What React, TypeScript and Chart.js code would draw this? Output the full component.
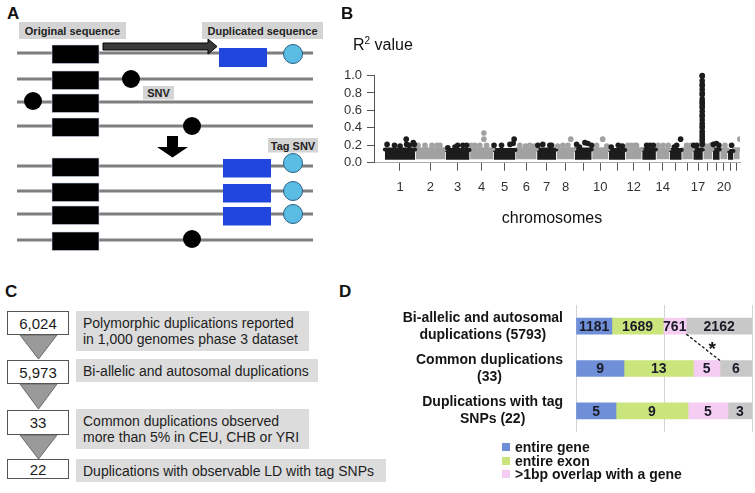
import React, { useEffect, useRef } from "react";
import { Chart, registerables } from "chart.js";
Chart.register(...registerables);

const FONT = '"Liberation Sans", Arial, Helvetica, sans-serif';

// ---------- Panel B data ----------
const CHR_NAMES = ["1","2","3","4","5","6","7","8","9","10","11","12","13","14","15","16","17","18","19","20","21","22"];
const CHR_LENGTHS_MB = [249,243,198,191,181,171,159,146,141,136,135,134,115,107,102,90,81,78,59,63,48,51];
const CHR_TICK_LABELS = ["1","2","3","4","5","6","7","8","","10","","12","","14","","","17","","","20","",""];
// dense body of R2 values per chromosome (low / high edge of the cloud)
const BAND_LOW = [0.035,0.04,0.035,0.04,0.035,0.04,0.035,0.04,0.035,0.04,0.035,0.04,0.035,0.04,0.035,0.04,0.035,0.04,0.035,0.04,0.035,0.04];
const BAND_HIGH = [0.15,0.155,0.145,0.155,0.145,0.155,0.15,0.155,0.15,0.155,0.145,0.155,0.15,0.155,0.145,0.155,0.15,0.155,0.15,0.155,0.135,0.155];
// sparse points above the cloud: [chromosome index, offset in Mb, R2]
const OUTLIERS: [number, number, number][] = [
  [0,20,0.21],[0,80,0.2],[0,125,0.19],[0,175,0.27],[0,178,0.21],[0,200,0.2],[0,232,0.23],[0,240,0.21],
  [1,21,0.2],[1,78,0.2],[1,134,0.2],[1,175,0.2],[1,199,0.2],
  [2,20,0.17],[2,78,0.18],[2,100,0.2],[2,142,0.2],[2,172,0.2],
  [3,10,0.2],[3,41,0.2],[3,81,0.2],[3,114,0.27],[3,114,0.34],[3,136,0.2],
  [4,5,0.2],[4,66,0.2],[4,134,0.21],[4,168,0.27],[4,160,0.22],
  [5,33,0.2],[5,80,0.19],[5,114,0.2],[5,150,0.19],
  [6,8,0.2],[6,48,0.21],[6,105,0.2],[6,119,0.2],
  [7,10,0.19],[7,52,0.2],[7,93,0.2],[7,115,0.27],
  [8,17,0.21],[8,40,0.18],[8,84,0.23],[8,108,0.22],[8,138,0.2],
  [9,38,0.2],[9,87,0.27],[9,120,0.19],
  [10,20,0.18],[10,77,0.2],[10,110,0.19],
  [11,20,0.2],[11,50,0.2],[11,77,0.2],[11,90,0.2],
  [12,38,0.2],[12,65,0.2],[12,92,0.2],
  [13,17,0.2],[13,57,0.2],[13,98,0.2],
  [14,59,0.2],[14,91,0.27],[14,40,0.18],
  [15,38,0.2],[15,70,0.2],
  [16,5,0.2],[16,30,0.2],
  [17,20,0.19],[17,60,0.2],
  [18,5,0.21],[18,30,0.22],[18,50,0.2],
  [19,40,0.2],
  [20,31,0.2],
  [21,50,0.27],
];
const CHR17_SPIKE_OFFSET_MB = 74;
const CHR17_SPIKE_R2 = [1.0,0.99,0.94,0.9,0.88,0.84,0.8,0.78,0.73,0.7,0.68,0.65,0.63,0.59,0.55,0.53,0.49,0.45,0.42,0.4,0.36,0.33,0.3,0.27,0.24,0.21];
const Y_TICKS = [0, 0.2, 0.4, 0.6, 0.8, 1.0];

// ---------- Panel D data ----------
const D_CATEGORIES = [
  ["Bi-allelic and autosomal", "duplications (5793)"],
  ["Common duplications", "(33)"],
  ["Duplications with tag", "SNPs (22)"],
];
const ENTIRE_GENE = [1181, 9, 5];
const ENTIRE_EXON = [1689, 13, 9];
const OVERLAP_GENE = [761, 5, 5];
const NO_OVERLAP = [2162, 6, 3];
const D_SERIES_NAMES = ["entire gene", "entire exon", ">1bp overlap with a gene", ""];
const D_COLORS = ["#6f90d8", "#c9e57c", "#f5cdf2", "#c8c8c8"];

// ---------- Panel C data ----------
const FLOW_COUNTS = ["6,024", "5,973", "33", "22"];
const FLOW_TEXT = [
  ["Polymorphic duplications reported", "in 1,000 genomes phase 3 dataset"],
  ["Bi-allelic and autosomal duplications"],
  ["Common duplications observed", "more than 5% in CEU, CHB or YRI"],
  ["Duplications with observable LD with tag SNPs"],
];

const BLACK = "#1c1c1c";
const GRAY = "#a2a2a2";

function ManhattanChart() {
  const ref = useRef<HTMLCanvasElement>(null);
  useEffect(() => {
    const starts: number[] = [];
    let acc = 0;
    CHR_LENGTHS_MB.forEach((l) => { starts.push(acc); acc += l; });
    const total = acc;
    const centers = CHR_LENGTHS_MB.map((l, i) => starts[i] + l / 2);

    const bands: any[] = CHR_LENGTHS_MB.map((len, i) => ({
      type: "line",
      label: "chr" + CHR_NAMES[i],
      data: [{ x: starts[i] + 2, y: BAND_HIGH[i] }, { x: starts[i] + len - 2, y: BAND_HIGH[i] }],
      showLine: true,
      fill: { value: BAND_LOW[i] },
      backgroundColor: i % 2 === 0 ? BLACK : GRAY,
      borderColor: i % 2 === 0 ? BLACK : GRAY,
      borderWidth: 4,
      borderCapStyle: "round",
      pointRadius: 0,
      order: 3,
    }));
    const outBlack = OUTLIERS.filter((o) => o[0] % 2 === 0).map((o) => ({ x: starts[o[0]] + o[1], y: o[2] }));
    const outGray = OUTLIERS.filter((o) => o[0] % 2 === 1).map((o) => ({ x: starts[o[0]] + o[1], y: o[2] }));
    const spike = CHR17_SPIKE_R2.map((v) => ({ x: starts[16] + CHR17_SPIKE_OFFSET_MB, y: v }));

    const chart = new Chart(ref.current!, {
      type: "scatter",
      data: {
        datasets: [
          ...bands,
          { label: "gray", data: outGray, backgroundColor: GRAY, borderWidth: 0, pointRadius: 2.8, order: 2 },
          { label: "black", data: outBlack, backgroundColor: BLACK, borderWidth: 0, pointRadius: 2.8, order: 1 },
          { label: "chr17", data: spike, backgroundColor: BLACK, borderWidth: 0, pointRadius: 2.8, order: 0, clip: false } as any,
        ],
      },
      options: {
        responsive: false,
        animation: false,
        devicePixelRatio: 1,
        layout: { padding: { top: 75.5, right: 15, left: 0, bottom: 0 } },
        plugins: { legend: { display: false }, tooltip: { enabled: false } },
        scales: {
          x: {
            type: "linear",
            min: -86,
            max: total,
            afterFit: (s: any) => { s.height = 87.3; },
            afterBuildTicks: (s: any) => { s.ticks = centers.map((v) => ({ value: v })); },
            ticks: {
              autoSkip: false,
              maxRotation: 0,
              padding: 9,
              color: "#333",
              font: { family: FONT, size: 13 },
              callback: (_v: any, i: number) => CHR_TICK_LABELS[i],
            },
            grid: { drawOnChartArea: false, drawTicks: true, tickLength: 8, color: "#555" },
            border: { display: true, color: "#aaa", width: 1 },
          },
          y: {
            min: 0,
            max: 1,
            afterFit: (s: any) => { s.width = 44; },
            afterBuildTicks: (s: any) => { s.ticks = Y_TICKS.map((v) => ({ value: v })); },
            ticks: {
              autoSkip: false,
              padding: 5,
              color: "#333",
              font: { family: FONT, size: 13, lineHeight: 1 },
              callback: (v: any) => Number(v).toFixed(1),
            },
            grid: { drawOnChartArea: false, drawTicks: true, tickLength: 7, color: "#555" },
            border: { display: true, color: "#555", width: 1 },
          },
        },
      },
    });
    return () => chart.destroy();
  }, []);
  return (
    <canvas ref={ref} width={425} height={250}
      style={{ position: "absolute", left: 330, top: 0, width: 425, height: 250 }} />
  );
}

function StackedChart() {
  const ref = useRef<HTMLCanvasElement>(null);
  useEffect(() => {
    const series = [ENTIRE_GENE, ENTIRE_EXON, OVERLAP_GENE, NO_OVERLAP];
    const totals = D_CATEGORIES.map((_, i) => series.reduce((a, s) => a + s[i], 0));
    const decor = {
      id: "dDecor",
      afterDatasetsDraw(chart: any) {
        const ctx = chart.ctx;
        ctx.save();
        ctx.font = `bold 14px ${FONT}`;
        ctx.fillStyle = "#1b1b28";
        ctx.textAlign = "center";
        ctx.textBaseline = "middle";
        series.forEach((s, di) => {
          const meta = chart.getDatasetMeta(di);
          meta.data.forEach((el: any, i: number) => {
            const p = el.getProps(["x", "base", "y"], true);
            ctx.fillText(String(s[i]), (p.x + p.base) / 2, p.y + 1);
          });
        });
        // category labels: right-aligned block, centred lines
        ctx.fillStyle = "#151515";
        const ys = chart.scales.y;
        D_CATEGORIES.forEach((lines, i) => {
          const yc = ys.getPixelForValue(i);
          const maxW = Math.max(...lines.map((l) => ctx.measureText(l).width));
          const cx = chart.chartArea.left - 13 - maxW / 2;
          lines.forEach((l, j) => ctx.fillText(l, cx, yc + (j - (lines.length - 1) / 2) * 17));
        });
        // dashed connector + asterisk
        const a = chart.getDatasetMeta(2).data[0].getProps(["x", "y", "height"], true);
        const b = chart.getDatasetMeta(3).data[1].getProps(["base", "y", "height"], true);
        const x1 = a.x, y1 = a.y + a.height / 2, x2 = b.base, y2 = b.y - b.height / 2;
        ctx.strokeStyle = "#111";
        ctx.lineWidth = 1.3;
        ctx.setLineDash([3, 2]);
        ctx.beginPath();
        ctx.moveTo(x1, y1);
        ctx.lineTo(x2, y2);
        ctx.stroke();
        ctx.setLineDash([]);
        ctx.font = `bold 19px ${FONT}`;
        ctx.fillStyle = "#111";
        ctx.fillText("*", (x1 + x2) / 2 + 9, (y1 + y2) / 2 + 2);
        ctx.restore();
      },
    };
    const chart = new Chart(ref.current!, {
      type: "bar",
      data: {
        labels: D_CATEGORIES.map((c) => c.join(" ")),
        datasets: series.map((s, di) => ({
          label: D_SERIES_NAMES[di],
          data: s.map((v, i) => (v / totals[i]) * 100),
          backgroundColor: D_COLORS[di],
          borderWidth: 0,
          barThickness: 16,
        })),
      },
      options: {
        indexAxis: "y",
        responsive: false,
        animation: false,
        devicePixelRatio: 1,
        layout: { padding: { top: 15, right: 3, bottom: 13, left: 0 } },
        plugins: { legend: { display: false }, tooltip: { enabled: false } },
        scales: {
          x: {
            stacked: true,
            min: 0,
            max: 100,
            ticks: { display: false, stepSize: 50 },
            grid: { drawTicks: false, color: "#d4d4d4" },
            border: { display: false },
            afterFit: (s: any) => { s.height = 0; },
          },
          y: {
            stacked: true,
            ticks: { display: false },
            grid: { display: false },
            border: { display: false },
            afterFit: (s: any) => { s.width = 176; },
          },
        },
      },
      plugins: [decor],
    });
    return () => chart.destroy();
  }, []);
  return (
    <canvas ref={ref} width={355} height={155}
      style={{ position: "absolute", left: 400, top: 290, width: 355, height: 155 }} />
  );
}

function PanelA() {
  const rows = [53, 79, 102, 126, 166, 191, 214, 240];
  const label = (x: number, y: number, w: number, h: number, t: string) => (
    <g key={t}>
      <rect x={x} y={y} width={w} height={h} fill="#d4d4d4" />
      <text x={x + w / 2} y={y + h / 2 + 0.5} fontSize={11} fontWeight="bold" fill="#222"
        textAnchor="middle" dominantBaseline="central" fontFamily={FONT}>{t}</text>
    </g>
  );
  return (
    <svg width={330} height={255} style={{ position: "absolute", left: 0, top: 0 }}>
      {rows.map((y, i) => (
        <g key={i}>
          <line x1={17} x2={313} y1={y} y2={y} stroke="#7f7f7f" strokeWidth={3} />
          <rect x={52} y={y - 8} width={47} height={18.5} fill="#000" stroke="#c9d3e6" strokeWidth={0.6} />
        </g>
      ))}
      <rect x={219} y={48} width={48} height={19} fill="#2146de" />
      {[166, 191, 214].map((y) => (
        <rect key={y} x={223} y={y - 7} width={48} height={18.5} fill="#2146de" />
      ))}
      {[54, 163, 191, 214].map((y) => (
        <circle key={y} cx={293} cy={y} r={9.5} fill="#5bbde3" stroke="#2b5f86" strokeWidth={1} />
      ))}
      {[[131, 79], [33, 101], [192, 126], [192, 239]].map(([x, y]) => (
        <circle key={x + "-" + y} cx={x} cy={y} r={9} fill="#000" />
      ))}
      <polygon points="103,43 208,43 208,39 217,46.5 208,54 208,50 103,50" fill="#3a3a3a" stroke="#000" strokeWidth={1} />
      <polygon points="167,136 178,136 178,147 188,147 172.5,157.5 157,147 167,147" fill="#000" />
      {label(19, 22, 107, 17, "Original sequence")}
      {label(202, 22, 121, 17, "Duplicated sequence")}
      {label(143, 86, 31, 13.5, "SNV")}
      {label(268, 138, 50, 14.5, "Tag SNV")}
    </svg>
  );
}

function PanelC() {
  const boxes = [
    { y: 311, h: 24 },
    { y: 360, h: 24 },
    { y: 410, h: 25 },
    { y: 459, h: 20 },
  ];
  const textBoxes = [
    { y: 311, h: 40, w: 233 },
    { y: 359, h: 23, w: 242 },
    { y: 409, h: 40, w: 233 },
    { y: 459, h: 23, w: 310 },
  ];
  const tris = [[335, 359], [384, 409], [435, 459]];
  return (
    <>
      <svg width={80} height={493} style={{ position: "absolute", left: 0, top: 0 }}>
        {tris.map(([t, b]) => (
          <polygon key={t} points={`20,${t} 57,${t} 38.5,${b}`} fill="#9a9a9a" stroke="#6a6a6a" strokeWidth={1} />
        ))}
      </svg>
      {boxes.map((b, i) => (
        <div key={i} style={{
          position: "absolute", left: 7, top: b.y, width: 62, height: b.h, boxSizing: "border-box",
          border: "1px solid #555", background: "#fff", fontSize: 15, color: "#1a1a1a",
          display: "flex", alignItems: "center", justifyContent: "center", fontFamily: FONT,
        }}>{FLOW_COUNTS[i]}</div>
      ))}
      {textBoxes.map((b, i) => (
        <div key={i} style={{
          position: "absolute", left: 76, top: b.y, width: b.w, height: b.h, background: "#dcdcdc",
          fontSize: 14, lineHeight: "16px", color: "#1e1e1e", paddingLeft: 7, boxSizing: "border-box",
          display: "flex", flexDirection: "column", justifyContent: "center", fontFamily: FONT,
          whiteSpace: "nowrap",
        }}>
          {FLOW_TEXT[i].map((t) => <div key={t}>{t}</div>)}
        </div>
      ))}
    </>
  );
}

function Legend() {
  return (
    <>
      {D_SERIES_NAMES.slice(0, 3).map((n, i) => (
        <div key={n} style={{ position: "absolute", left: 502, top: 440 + i * 13.5, height: 14, display: "flex", alignItems: "center" }}>
          <div style={{ width: 8, height: 8, background: D_COLORS[i], marginRight: 5 }} />
          <div style={{ fontSize: 14, fontWeight: "bold", color: "#151515", fontFamily: FONT, lineHeight: "14px", whiteSpace: "nowrap" }}>{n}</div>
        </div>
      ))}
    </>
  );
}

const letter = (t: string, x: number, y: number) => (
  <div style={{ position: "absolute", left: x, top: y, fontSize: 17, fontWeight: "bold", fontFamily: FONT, lineHeight: "17px", color: "#111" }}>{t}</div>
);

export default function App() {
  return (
    <div style={{ position: "absolute", left: 0, top: 0, width: 755, height: 493, background: "#fff", overflow: "hidden", fontFamily: FONT }}>
      <PanelA />
      <ManhattanChart />
      <div style={{ position: "absolute", left: 353, top: 35, fontSize: 16, lineHeight: "20px", color: "#111", fontFamily: FONT }}>
        R<sup style={{ fontSize: 10, verticalAlign: "6px", lineHeight: 0 }}>2</sup> value
      </div>
      <div style={{ position: "absolute", left: 452, width: 200, textAlign: "center", top: 208, fontSize: 16, lineHeight: "20px", color: "#111", fontFamily: FONT }}>
        chromosomes
      </div>
      <PanelC />
      <StackedChart />
      <Legend />
      {letter("A", 7, 5)}
      {letter("B", 341, 5)}
      {letter("C", 5, 283)}
      {letter("D", 339, 283)}
    </div>
  );
}
